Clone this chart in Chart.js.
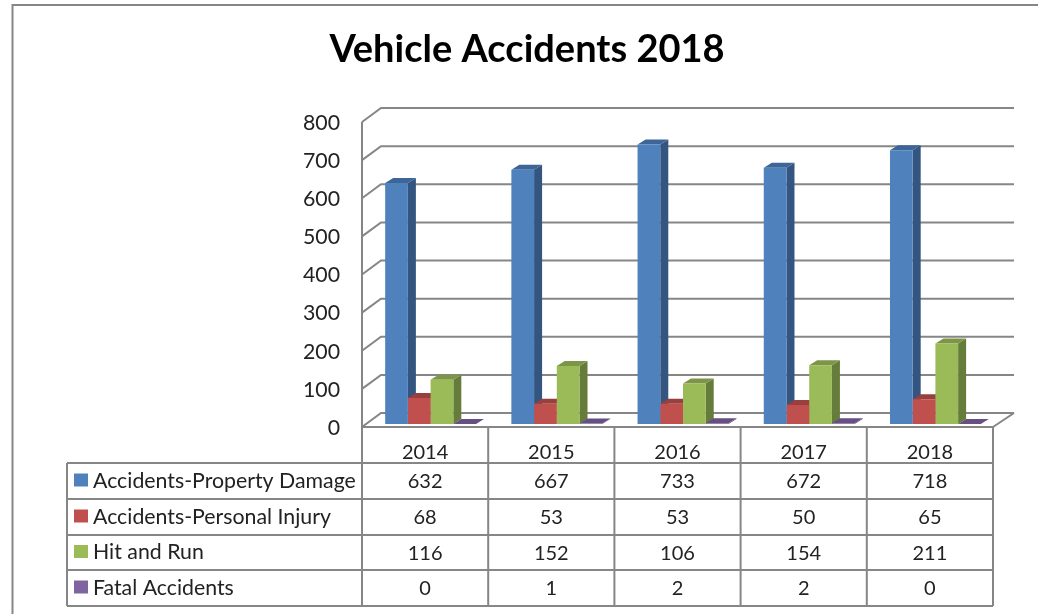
<!DOCTYPE html>
<html>
<head>
<meta charset="utf-8">
<style>
    html, body { margin: 0; padding: 0; background: #fff; }
    canvas { display: block; }
</style>
<script src="https://cdn.jsdelivr.net/npm/chart.js@4"></script>
</head>
<body>
<canvas id="chart" width="1038" height="614"></canvas>
<script>
const years = ['2014', '2015', '2016', '2017', '2018'];
const propertyDamage = [632, 667, 733, 672, 718];
const personalInjury = [68, 53, 53, 50, 65];
const hitAndRun = [116, 152, 106, 154, 211];
const fatalAccidents = [0, 1, 2, 2, 0];

const seriesNames = ['Accidents-Property Damage', 'Accidents-Personal Injury', 'Hit and Run', 'Fatal Accidents'];
const seriesValues = [propertyDamage, personalInjury, hitAndRun, fatalAccidents];
const frontColors = ['#4f81bd', '#c0504d', '#9bbb59', '#8064a2'];
const sideColors = ['#33557f', '#7f3533', '#667c3a', '#55426c'];
const topColors = ['#3d6597', '#993f3d', '#7c9547', '#664f81'];

const FONT = 'Lato, Carlito, sans-serif';
const LINE = '#868686';
const TEXT = '#222222';

// wall depth, bar depth and where the bars stand on the floor
const wallDepth = { x: 19, y: -14 };
const barDepth = { x: 8, y: -5 };
const barShift = { x: 5.5, y: -3 };
const tableLeft = 67;
const rowLines = [463, 499, 535, 570, 606];

const fakeWalls = {
    id: 'fakeWalls',
    beforeDatasetsDraw(chart) {
        const { ctx, chartArea: area, scales: { y } } = chart;
        ctx.save();
        ctx.strokeStyle = LINE;
        ctx.lineWidth = 2;
        ctx.beginPath();
        y.ticks.forEach(tick => {
            const py = y.getPixelForValue(tick.value);
            ctx.moveTo(area.left, py);
            ctx.lineTo(area.left + wallDepth.x, py + wallDepth.y);
            ctx.lineTo(area.right + wallDepth.x + 2, py + wallDepth.y);
        });
        ctx.moveTo(area.left, area.top);
        ctx.lineTo(area.left, area.bottom);
        ctx.moveTo(area.right, area.bottom);
        ctx.lineTo(area.right + wallDepth.x + 2, area.bottom + wallDepth.y);
        ctx.stroke();
        ctx.restore();
    }
};

// side and top faces go under the native bars, which stay as the front faces
const fakeBars = {
    id: 'fakeBars',
    beforeDatasetsDraw(chart) {
        const { ctx } = chart;
        ctx.save();
        ctx.translate(barShift.x, barShift.y);
        chart.data.datasets.forEach((ds, i) => {
            chart.getDatasetMeta(i).data.forEach(bar => {
                const left = bar.x - bar.width / 2;
                const right = bar.x + bar.width / 2;
                ctx.fillStyle = sideColors[i];
                ctx.beginPath();
                ctx.moveTo(right, bar.base);
                ctx.lineTo(right + barDepth.x, bar.base + barDepth.y);
                ctx.lineTo(right + barDepth.x, bar.y + barDepth.y);
                ctx.lineTo(right, bar.y);
                ctx.fill();
                ctx.fillStyle = topColors[i];
                ctx.beginPath();
                ctx.moveTo(left, bar.y);
                ctx.lineTo(left + barDepth.x, bar.y + barDepth.y);
                ctx.lineTo(right + barDepth.x, bar.y + barDepth.y);
                ctx.lineTo(right, bar.y);
                ctx.fill();
            });
        });
    },
    afterDatasetsDraw(chart) {
        chart.ctx.restore();
    }
};

const dataTable = {
    id: 'dataTable',
    afterDraw(chart) {
        const { ctx, chartArea: area, scales: { x } } = chart;
        const colWidth = x.width / years.length;
        ctx.save();
        ctx.strokeStyle = LINE;
        ctx.lineWidth = 2;
        ctx.beginPath();
        rowLines.forEach(py => {
            ctx.moveTo(tableLeft, py);
            ctx.lineTo(area.right, py);
        });
        ctx.moveTo(area.left, area.bottom);
        ctx.lineTo(area.right, area.bottom);
        ctx.moveTo(tableLeft, rowLines[0]);
        ctx.lineTo(tableLeft, rowLines[4]);
        years.forEach((year, i) => {
            const px = x.getPixelForTick(i) - colWidth / 2;
            ctx.moveTo(px, area.bottom);
            ctx.lineTo(px, rowLines[4]);
        });
        ctx.moveTo(area.right, area.bottom);
        ctx.lineTo(area.right, rowLines[4]);
        ctx.stroke();

        ctx.textBaseline = 'middle';
        seriesNames.forEach((name, r) => {
            const cy = (rowLines[r] + rowLines[r + 1]) / 2;
            ctx.fillStyle = frontColors[r];
            ctx.fillRect(74, cy - 7.5, 14, 13);
            ctx.fillStyle = TEXT;
            ctx.textAlign = 'left';
            ctx.font = '21.3px ' + FONT;
            ctx.fillText(name, 93, cy);
            ctx.textAlign = 'center';
            ctx.font = '20px ' + FONT;
            seriesValues[r].forEach((value, c) => {
                ctx.fillText(String(value), x.getPixelForTick(c), cy + 1);
            });
        });
        ctx.restore();
    }
};

// chart frame, cut off by the picture on the right and at the bottom
const frame = {
    id: 'frame',
    beforeDraw(chart) {
        const { ctx } = chart;
        ctx.save();
        ctx.fillStyle = '#ffffff';
        ctx.fillRect(0, 0, chart.width, chart.height);
        ctx.strokeStyle = LINE;
        ctx.lineWidth = 2;
        ctx.beginPath();
        ctx.moveTo(chart.width, 5);
        ctx.lineTo(12.5, 5);
        ctx.lineTo(12.5, chart.height);
        ctx.stroke();
        ctx.restore();
    }
};

new Chart(document.getElementById('chart'), {
    type: 'bar',
    data: {
        labels: years,
        datasets: seriesNames.map((name, i) => ({
            label: name,
            data: seriesValues[i],
            backgroundColor: frontColors[i],
            borderWidth: 0,
            categoryPercentage: 0.72,
            barPercentage: 1
        }))
    },
    options: {
        responsive: false,
        animation: false,
        layout: { padding: { left: 16, right: 0, top: 0, bottom: 0 } },
        plugins: {
            legend: { display: false },
            tooltip: { enabled: false },
            title: {
                display: true,
                text: 'Vehicle Accidents 2018',
                color: '#000000',
                font: { family: FONT, size: 38, weight: 'bold' },
                padding: { top: 27, bottom: 49.4 }
            }
        },
        scales: {
            x: {
                grid: { display: false },
                border: { display: false },
                ticks: { color: TEXT, font: { family: FONT, size: 20 }, padding: 6, maxRotation: 0 },
                afterFit(scale) { scale.height = 187; }
            },
            y: {
                min: 0,
                max: 800,
                grid: { display: false },
                border: { display: false },
                ticks: { stepSize: 100, color: TEXT, font: { family: FONT, size: 21.3 }, padding: 14, labelOffset: 1 },
                afterFit(scale) { scale.width = 346; }
            },
            // empty axis, only keeps the space right of the table
            spacer: {
                position: 'right',
                grid: { display: false },
                border: { display: false },
                ticks: { display: false },
                afterFit(scale) { scale.width = 45; }
            }
        }
    },
    plugins: [frame, fakeWalls, fakeBars, dataTable]
});
</script>
</body>
</html>
